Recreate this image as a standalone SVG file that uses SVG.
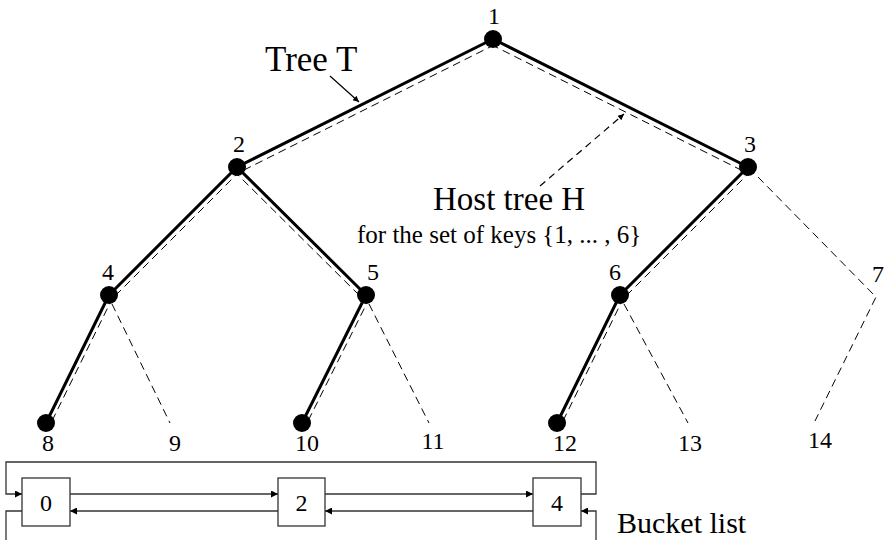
<svg xmlns="http://www.w3.org/2000/svg" width="887" height="540" viewBox="0 0 887 540">
<defs>
<marker id="ah" viewBox="0 0 10 10" refX="10" refY="5" markerWidth="8" markerHeight="6" markerUnits="userSpaceOnUse" orient="auto">
<path d="M0,0 L10,5 L0,10 z" fill="#000"/>
</marker>
<marker id="ahb" viewBox="0 0 10 10" refX="10" refY="5" markerWidth="9" markerHeight="7" markerUnits="userSpaceOnUse" orient="auto">
<path d="M0,0 L10,5 L0,10 z" fill="#000"/>
</marker>
</defs>
<style>
.t{stroke:#000;stroke-width:3;fill:none;stroke-linecap:round}
.h{stroke:#000;stroke-width:1;fill:none;stroke-dasharray:8 5}
.dot{fill:#000}
.lbl{font-family:"Liberation Serif",serif;font-size:24px;text-anchor:middle;fill:#000}
.big{font-family:"Liberation Serif",serif;font-size:33px;fill:#000}
.mid{font-family:"Liberation Serif",serif;font-size:25px;fill:#000}
.box{fill:#fff;stroke:#333;stroke-width:1.3}
.bl{stroke:#333;stroke-width:1.3;fill:none}
</style>
<rect width="887" height="540" fill="#fff"/>
<g id="connectors">
<line class="t" x1="493" y1="39" x2="237" y2="167"/>
<line class="t" x1="493" y1="39" x2="748" y2="167"/>
<line class="t" x1="237" y1="167" x2="109" y2="295"/>
<line class="t" x1="237" y1="167" x2="366" y2="295"/>
<line class="t" x1="748" y1="167" x2="620" y2="295"/>
<line class="t" x1="109" y1="295" x2="46" y2="423"/>
<line class="t" x1="366" y1="295" x2="302" y2="423"/>
<line class="t" x1="620" y1="295" x2="557" y2="423"/>
<line class="h" x1="495" y1="44.5" x2="239" y2="172.5"/>
<line class="h" x1="491" y1="44.5" x2="746" y2="172.5"/>
<line class="h" x1="240.5" y1="170.5" x2="112.5" y2="298.5"/>
<line class="h" x1="233.5" y1="170.5" x2="362.5" y2="298.5"/>
<line class="h" x1="751.5" y1="170.5" x2="623.5" y2="298.5"/>
<line class="h" x1="113" y1="297" x2="50" y2="425"/>
<line class="h" x1="370" y1="297" x2="306" y2="425"/>
<line class="h" x1="624" y1="297" x2="561" y2="425"/>
<line class="h" x1="112" y1="304" x2="170" y2="423"/>
<line class="h" x1="369" y1="304" x2="429" y2="423"/>
<line class="h" x1="624" y1="304" x2="688" y2="423"/>
<polyline class="h" points="758,177 876,297 815,421"/>
<line x1="330" y1="76" x2="359" y2="102" stroke="#000" stroke-width="1.2" marker-end="url(#ah)"/>
<line x1="540" y1="186" x2="624" y2="114" stroke="#000" stroke-width="1.2" stroke-dasharray="7 5" marker-end="url(#ah)"/>
<line class="bl" x1="70" y1="494" x2="278" y2="494" marker-end="url(#ahb)"/>
<line class="bl" x1="278" y1="511" x2="70" y2="511" marker-end="url(#ahb)"/>
<line class="bl" x1="325" y1="494" x2="533" y2="494" marker-end="url(#ahb)"/>
<line class="bl" x1="533" y1="511" x2="325" y2="511" marker-end="url(#ahb)"/>
<polyline class="bl" points="581,494 596,494 596,462 6,462 6,494 22,494" marker-end="url(#ahb)"/>
<polyline class="bl" points="22,511 6,511 6,545"/>
<polyline class="bl" points="596,545 596,511 581,511" marker-end="url(#ahb)"/>
</g>
<g id="n1"><circle class="dot" cx="493" cy="39" r="9"/><text class="lbl" x="494" y="24">1</text></g>
<g id="n2"><circle class="dot" cx="237" cy="167" r="9"/><text class="lbl" x="239" y="152">2</text></g>
<g id="n3"><circle class="dot" cx="748" cy="167" r="9"/><text class="lbl" x="750" y="152">3</text></g>
<g id="n4"><circle class="dot" cx="109" cy="295" r="9"/><text class="lbl" x="108" y="280">4</text></g>
<g id="n5"><circle class="dot" cx="366" cy="295" r="9"/><text class="lbl" x="373" y="280">5</text></g>
<g id="n6"><circle class="dot" cx="620" cy="295" r="9"/><text class="lbl" x="615" y="280">6</text></g>
<g id="n7"><text class="lbl" x="878" y="282">7</text></g>
<g id="n8"><circle class="dot" cx="46" cy="423" r="9"/><text class="lbl" x="48" y="451">8</text></g>
<g id="n9"><text class="lbl" x="175" y="451">9</text></g>
<g id="n10"><circle class="dot" cx="302" cy="423" r="9"/><text class="lbl" x="307" y="451">10</text></g>
<g id="n11"><text class="lbl" x="433" y="449">11</text></g>
<g id="n12"><circle class="dot" cx="557" cy="423" r="9"/><text class="lbl" x="565" y="451">12</text></g>
<g id="n13"><text class="lbl" x="690" y="451">13</text></g>
<g id="n14"><text class="lbl" x="820" y="448">14</text></g>
<g id="labels">
<text class="big" x="265" y="71" style="font-size:35px">Tree T</text>
<text class="big" x="433" y="210">Host tree H</text>
<text class="mid" x="357" y="243">for the set of keys {1, ... , 6}</text>
<text class="big" x="617" y="533" style="font-size:30px">Bucket list</text>
</g>
<g id="b0"><rect class="box" x="22" y="478" width="48" height="48"/><text class="lbl" x="46" y="511">0</text></g>
<g id="b2"><rect class="box" x="278" y="478" width="47" height="48"/><text class="lbl" x="301.5" y="511">2</text></g>
<g id="b4"><rect class="box" x="533" y="478" width="48" height="48"/><text class="lbl" x="557" y="511">4</text></g>
</svg>
